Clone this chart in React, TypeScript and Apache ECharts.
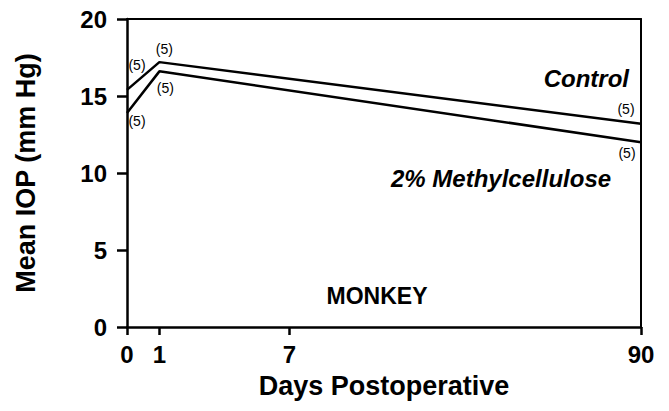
import React, { useEffect, useRef } from "react";
import * as echarts from "echarts";

// Data
const DAYS = [0, 1, 90];
const CONTROL = [15.4, 17.2, 13.2];
const METHYLCELLULOSE = [13.9, 16.6, 12.0];
const N_CONTROL = [5, 5, 5];
const N_METHYL = [5, 5, 5];
const TICK_DAYS = [0, 1, 7, 90];
const Y_TICKS = [0, 5, 10, 15, 20];

// The original's day axis is not linear: piecewise scale (day -> axis position, 0..100)
const SCALE_DAYS = [0, 1, 7, 90];
const SCALE_POS = [0, 6.3, 31.6, 100];

function dayToPos(d: number): number {
  for (let i = 0; i < SCALE_DAYS.length - 1; i++) {
    const a = SCALE_DAYS[i], b = SCALE_DAYS[i + 1];
    if (d >= a && d <= b) {
      return SCALE_POS[i] + ((d - a) / (b - a)) * (SCALE_POS[i + 1] - SCALE_POS[i]);
    }
  }
  return SCALE_POS[SCALE_POS.length - 1];
}
function posToDay(p: number): string {
  for (let i = 0; i < TICK_DAYS.length; i++) {
    if (Math.abs(dayToPos(TICK_DAYS[i]) - p) < 0.01) return String(TICK_DAYS[i]);
  }
  return "";
}

const FONT = "Liberation Sans";
const CONTROL_LABEL_OFFSETS = [[10, -25], [5, -13], [-15, -15]];
const METHYL_LABEL_OFFSETS = [[10, 8], [6, 17], [-14, 11]];

function buildData(values: number[], ns: number[], offsets: number[][]) {
  return values.map((v, i) => ({
    value: [dayToPos(DAYS[i]), v],
    label: {
      show: true,
      position: "inside",
      offset: offsets[i],
      formatter: `(${ns[i]})`,
      fontFamily: FONT,
      fontSize: 14,
      color: "#000",
    },
  }));
}

export default function App() {
  const ref = useRef<HTMLDivElement>(null);
  useEffect(() => {
    if (!ref.current) return;
    const chart = echarts.init(ref.current, null, { renderer: "svg" });
    const tickPos = TICK_DAYS.map(dayToPos);
    const lineSeries = (name: string, data: any) => ({
      name,
      type: "line",
      data,
      symbol: "circle",
      symbolSize: 1,
      itemStyle: { color: "rgba(0,0,0,0)" },
      lineStyle: { color: "#000", width: 2.5 },
      clip: false,
    });
    const frameAxis = (position: string) => ({
      type: "value",
      position,
      min: 0,
      max: position === "top" ? 100 : 20,
      axisLine: { show: true, onZero: false, lineStyle: { color: "#000", width: 2 } },
      axisTick: { show: false },
      axisLabel: { show: false },
      splitLine: { show: false },
    });
    chart.setOption({
      animation: false,
      backgroundColor: "#fff",
      grid: {
        left: 127,
        right: 28,
        top: 19,
        bottom: 84,
      },
      xAxis: [
        {
          type: "value",
          min: 0,
          max: 100,
          position: "bottom",
          name: "Days Postoperative",
          nameLocation: "middle",
          nameGap: 45,
          nameTextStyle: { fontFamily: FONT, fontWeight: "bold", fontSize: 27, color: "#000" },
          splitLine: { show: false },
          axisLine: { show: true, onZero: false, lineStyle: { color: "#000", width: 2.5 } },
          axisTick: { show: true, customValues: tickPos, length: 8, lineStyle: { color: "#000", width: 2.5 } },
          axisLabel: {
            customValues: tickPos,
            formatter: (v: number) => posToDay(v),
            fontFamily: FONT,
            fontWeight: "bold",
            fontSize: 24,
            color: "#000",
            margin: 15,
          },
        },
        frameAxis("top"),
      ],
      yAxis: [
        {
          type: "value",
          min: Y_TICKS[0],
          max: Y_TICKS[Y_TICKS.length - 1],
          interval: 5,
          position: "left",
          name: "Mean IOP (mm Hg)",
          nameLocation: "middle",
          nameGap: 88,
          nameTextStyle: { fontFamily: FONT, fontWeight: "bold", fontSize: 27, color: "#000" },
          splitLine: { show: false },
          axisLine: { show: true, onZero: false, lineStyle: { color: "#000", width: 2.5 } },
          axisTick: { show: true, inside: false, length: 10, lineStyle: { color: "#000", width: 2.5 } },
          axisLabel: {
            fontFamily: FONT,
            fontWeight: "bold",
            fontSize: 24,
            color: "#000",
            margin: 20,
          },
        },
        frameAxis("right"),
      ],
      series: [
        lineSeries("Control", buildData(CONTROL, N_CONTROL, CONTROL_LABEL_OFFSETS)),
        lineSeries("2% Methylcellulose", buildData(METHYLCELLULOSE, N_METHYL, METHYL_LABEL_OFFSETS)),
      ],
      graphic: [
        {
          type: "text",
          x: 629,
          y: 78,
          style: {
            text: "Control",
            fontFamily: FONT,
            fontWeight: "bold",
            fontStyle: "italic",
            fontSize: 24,
            fill: "#000",
            align: "right",
            verticalAlign: "middle",
          },
        },
        {
          type: "text",
          x: 391,
          y: 178,
          style: {
            text: "2% Methylcellulose",
            fontFamily: FONT,
            fontWeight: "bold",
            fontStyle: "italic",
            fontSize: 24,
            fill: "#000",
            align: "left",
            verticalAlign: "middle",
          },
        },
        {
          type: "text",
          x: 377,
          y: 296,
          style: {
            text: "MONKEY",
            fontFamily: FONT,
            fontWeight: "bold",
            fontSize: 23,
            fill: "#000",
            align: "center",
            verticalAlign: "middle",
          },
        },
      ],
    });
    return () => chart.dispose();
  }, []);
  return (
    <div
      ref={ref}
      style={{ position: "fixed", left: 0, top: 0, width: 669, height: 411, background: "#fff" }}
    />
  );
}
